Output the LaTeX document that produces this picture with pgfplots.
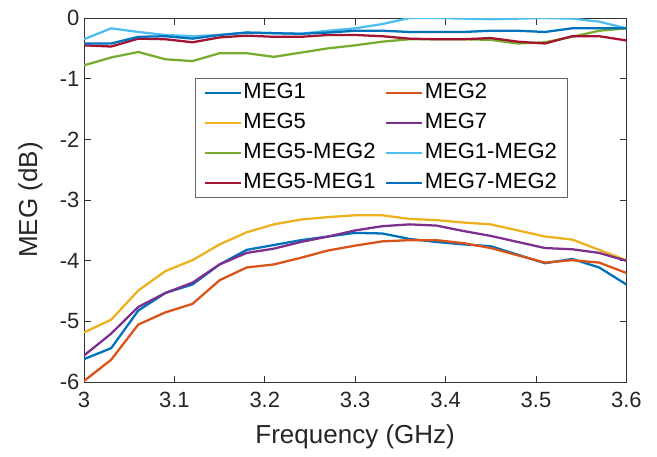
\documentclass[border=0pt]{standalone}
\usepackage{pgfplots}
\pgfplotsset{compat=1.18}
\usepackage{pgfplotstable}
\usepackage{fontspec}
\setmainfont{Liberation Sans}
\usetikzlibrary{calc}

\definecolor{mlblue}{rgb}{0,0.447,0.741}
\definecolor{mlorange}{rgb}{0.85,0.325,0.098}
\definecolor{mlyellow}{rgb}{0.929,0.694,0.125}
\definecolor{mlpurple}{rgb}{0.494,0.184,0.556}
\definecolor{mlgreen}{rgb}{0.466,0.674,0.188}
\definecolor{mlcyan}{rgb}{0.301,0.745,0.933}
\definecolor{mlred}{rgb}{0.635,0.078,0.184}

% columns: MEG1 MEG2 MEG5 MEG7 MEG5-MEG2 MEG1-MEG2 MEG5-MEG1 MEG7-MEG2
\pgfplotstableread{
f     a      b      c      d      e      g      h      k
3.00  -5.62  -5.98  -5.18  -5.56  -0.78  -0.35  -0.45  -0.42
3.03  -5.44  -5.63  -4.97  -5.20  -0.65  -0.17  -0.47  -0.42
3.06  -4.82  -5.05  -4.49  -4.76  -0.56  -0.23  -0.34  -0.31
3.09  -4.53  -4.85  -4.17  -4.53  -0.68  -0.28  -0.35  -0.30
3.12  -4.39  -4.71  -3.99  -4.36  -0.71  -0.30  -0.40  -0.34
3.15  -4.06  -4.32  -3.73  -4.06  -0.58  -0.28  -0.32  -0.28
3.18  -3.82  -4.11  -3.53  -3.87  -0.58  -0.24  -0.29  -0.24
3.21  -3.74  -4.06  -3.40  -3.80  -0.64  -0.25  -0.31  -0.25
3.24  -3.66  -3.95  -3.32  -3.69  -0.57  -0.26  -0.31  -0.26
3.27  -3.60  -3.83  -3.28  -3.60  -0.50  -0.21  -0.28  -0.24
3.30  -3.54  -3.75  -3.25  -3.50  -0.45  -0.17  -0.28  -0.21
3.33  -3.55  -3.68  -3.25  -3.43  -0.39  -0.10  -0.30  -0.21
3.36  -3.64  -3.66  -3.31  -3.40  -0.35   0.00  -0.34  -0.23
3.39  -3.69  -3.66  -3.33  -3.42  -0.35   0.00  -0.35  -0.23
3.42  -3.73  -3.71  -3.37  -3.51  -0.35  -0.01  -0.35  -0.23
3.45  -3.76  -3.79  -3.40  -3.59  -0.36  -0.02  -0.33  -0.21
3.48  -3.90  -3.91  -3.50  -3.69  -0.42  -0.01  -0.39  -0.21
3.51  -4.04  -4.03  -3.60  -3.79  -0.40   0.00  -0.42  -0.23
3.54  -3.97  -3.99  -3.65  -3.81  -0.31  -0.01  -0.30  -0.17
3.57  -4.11  -4.03  -3.82  -3.87  -0.21  -0.06  -0.30  -0.17
3.60  -4.39  -4.20  -3.99  -4.00  -0.17  -0.17  -0.37  -0.17
}\megdata

\begin{document}
\begin{tikzpicture}
\begin{axis}[
  scale only axis, width=406.5pt, height=273pt,
  xmin=3, xmax=3.6, ymin=-6, ymax=0,
  xtick={3,3.1,...,3.6}, ytick={-6,-5,...,0},
  xticklabel style={/pgf/number format/fixed, yshift=-4pt},
  /pgf/number format/assume math mode=true,
  tick align=inside, major tick length=5pt,
  axis line style={black!80, line width=0.6pt},
  tick style={black!80, line width=0.6pt},
  ticklabel style={font=\fontsize{16.5}{18}\selectfont, text=black!85},
  label style={font=\fontsize{19.5}{22}\selectfont, text=black!85},
  xlabel={Frequency (GHz)}, ylabel={MEG (dB)},
  xlabel style={yshift=-6pt}, ylabel style={yshift=6pt},
  every axis plot/.append style={line width=1.7pt, no marks},
  legend columns=2,
  legend cell align=left,
  legend style={at={(rel axis cs:0.204,0.835)}, anchor=north west,
    draw=black!60, line width=0.6pt, font=\fontsize{16.5}{18}\selectfont,
    inner xsep=6.5pt, inner ysep=2pt,
    nodes={inner xsep=1.1pt, inner ysep=1pt, text height=12pt, text depth=3.5pt},
    /tikz/every even column/.append style={column sep=6pt},
    row sep=5pt},
  legend image code/.code={\draw[#1, line width=1.7pt] (0pt,0pt) -- (27pt,0pt);},
]
\addplot[color=mlblue] table[x=f, y=a] {\megdata};
\addlegendentry{MEG1}
\addplot[color=mlorange] table[x=f, y=b] {\megdata};
\addlegendentry{MEG2}
\addplot[color=mlyellow] table[x=f, y=c] {\megdata};
\addlegendentry{MEG5}
\addplot[color=mlpurple] table[x=f, y=d] {\megdata};
\addlegendentry{MEG7}
\addplot[color=mlgreen] table[x=f, y=e] {\megdata};
\addlegendentry{MEG5-MEG2}
\addplot[color=mlcyan] table[x=f, y=g] {\megdata};
\addlegendentry{MEG1-MEG2}
\addplot[color=mlred] table[x=f, y=h] {\megdata};
\addlegendentry{MEG5-MEG1}
\addplot[color=mlblue] table[x=f, y=k] {\megdata};
\addlegendentry{MEG7-MEG2}
\coordinate (sw) at (rel axis cs:0,0);
\coordinate (ne) at (rel axis cs:1,1);
\end{axis}
\path ($(sw)+(-63pt,-56pt)$) rectangle ($(ne)+(23pt,13.5pt)$);
\end{tikzpicture}
\end{document}
